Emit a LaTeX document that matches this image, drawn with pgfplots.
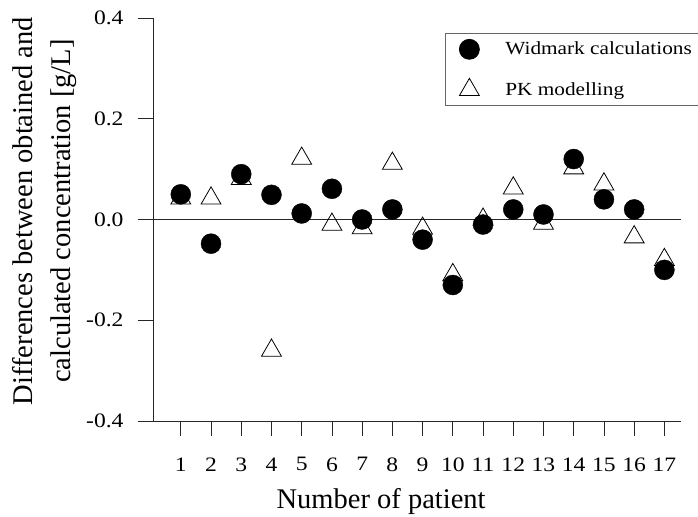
\documentclass[border=0pt]{standalone}
\usepackage{pgfplots}
\usepackage{pgfplotstable}
\pgfplotsset{compat=1.18}
\usepackage{fontspec}
\setmainfont{Liberation Serif}
\newfontfamily\widefont[FakeStretch=1.15]{Liberation Serif}

\pgfplotsset{mylegimg/.style={legend image code/.code={\path[draw=none] (0bp,0bp) (50bp,0bp); \draw[##1] plot coordinates {(16bp,0bp)};}}}

\pgfplotstableread{
x w p
1 0.05 0.042
2 -0.048 0.042
3 0.09 0.081
4 0.049 -0.26
5 0.012 0.121
6 0.061 -0.010
7 0.0 -0.017
8 0.02 0.111
9 -0.04 -0.018
10 -0.13 -0.110
11 -0.01 0.0
12 0.02 0.062
13 0.01 -0.008
14 0.12 0.102
15 0.04 0.070
16 0.02 -0.035
17 -0.10 -0.080
}\data

\begin{document}
\begin{tikzpicture}
\useasboundingbox (-153bp,-96bp) rectangle (545bp,421bp);
\begin{axis}[
  scale only axis, width=528bp, height=403bp,
  xmin=0.08, xmax=17.55, ymin=-0.4, ymax=0.4,
  axis x line=bottom, axis y line=left,
  axis line style={-, line width=0.8bp, black!85},
  xtick={1,...,17}, ytick={-0.4,-0.2,0,0.2,0.4},
  yticklabel style={xshift=-11bp, /pgf/number format/.cd, fixed, fixed zerofill, precision=1},
  tick align=outside, major tick length=15bp,
  tick style={line width=0.8bp, black!85},
  ticklabel style={font=\widefont\fontsize{20.5bp}{24bp}\selectfont},
  xticklabel style={yshift=-18bp},
  /pgf/number format/assume math mode=true,
  xlabel={Number of patient},
  xlabel style={at={(axis description cs:0.432,-0.218)}, anchor=base, font=\fontsize{28.5bp}{34bp}\selectfont},
  ylabel={Differences between obtained and\\calculated concentration [g/L]},
  ylabel style={at={(axis description cs:-0.206,0.521)}, anchor=center, align=center, font=\fontsize{28.5bp}{38bp}\selectfont},
  legend style={at={(axis description cs:0.553,0.963)}, anchor=north west,
    draw=black!60, line width=0.8bp, font=\widefont\fontsize{18.5bp}{22bp}\selectfont,
    inner xsep=8bp, inner ysep=6bp, row sep=19bp},
  legend cell align=left,
]
\addplot[black!85, line width=0.8bp, forget plot] coordinates {(0.08,0) (17.55,0)};
\addplot[only marks, mark=*, mark size=10bp, black, mylegimg]
  table[x=x, y=w] {\data};
\addlegendentry{Widmark calculations}
\addplot[only marks, mark=triangle, mark size=11.5bp, black, mark options={fill=white, line width=0.8bp}, mylegimg]
  table[x=x, y=p] {\data};
\addlegendentry{PK modelling}
\end{axis}
\end{tikzpicture}
\end{document}
